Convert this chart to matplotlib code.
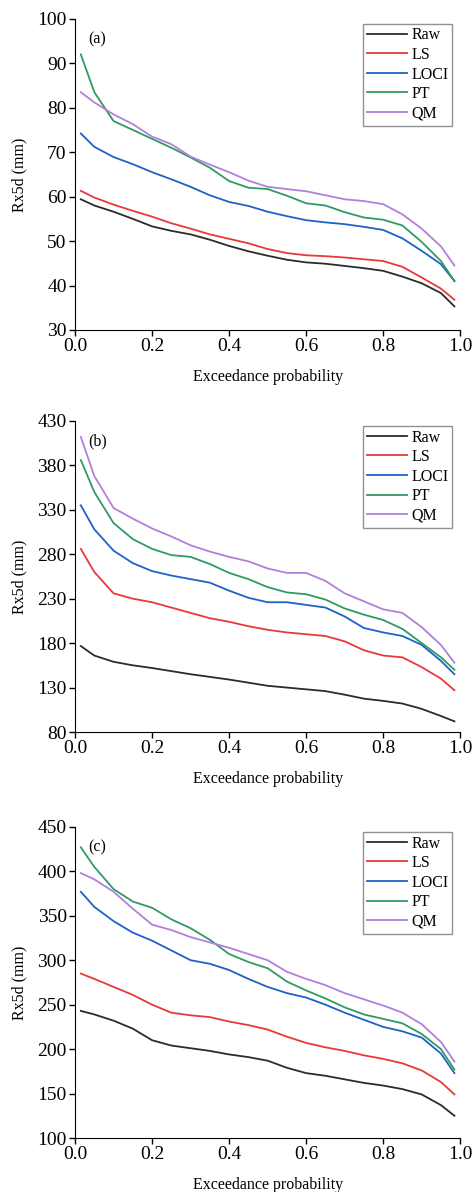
import numpy as np
import matplotlib.pyplot as plt

plt.rcParams['font.family'] = ['Liberation Serif', 'DejaVu Serif']

# exceedance probability (shared by all panels)
prob = [0.015, 0.05, 0.1, 0.15, 0.2, 0.25, 0.3, 0.35, 0.4, 0.45, 0.5,
        0.55, 0.6, 0.65, 0.7, 0.75, 0.8, 0.85, 0.9, 0.95, 0.985]

methods = ["Raw", "LS", "LOCI", "PT", "QM"]
colors = ["#2b2b2b", "#e8393a", "#1c62c8", "#2f9a62", "#b27fdc"]

# panel (a)
a_raw = [59.4, 58.0, 56.6, 55.0, 53.3, 52.3, 51.5, 50.3, 48.9, 47.7, 46.7,
         45.8, 45.2, 44.9, 44.4, 43.9, 43.3, 42.0, 40.5, 38.3, 35.3]
a_ls = [61.3, 59.8, 58.2, 56.8, 55.5, 54.0, 52.8, 51.5, 50.5, 49.5, 48.2,
        47.3, 46.8, 46.6, 46.3, 45.9, 45.5, 44.2, 41.8, 39.3, 36.8]
a_loci = [74.2, 71.2, 68.9, 67.3, 65.5, 63.9, 62.2, 60.3, 58.8, 57.9, 56.6,
          55.6, 54.7, 54.2, 53.8, 53.2, 52.5, 50.6, 47.8, 44.8, 41.0]
a_pt = [92.0, 83.5, 77.0, 75.0, 73.0, 71.0, 68.8, 66.5, 63.5, 62.0, 61.7,
        60.2, 58.5, 58.0, 56.5, 55.3, 54.8, 53.5, 49.8, 45.5, 41.0]
a_qm = [83.5, 81.2, 78.5, 76.3, 73.5, 71.8, 69.0, 67.2, 65.5, 63.6, 62.2,
        61.7, 61.2, 60.3, 59.4, 59.0, 58.3, 56.0, 52.8, 48.8, 44.5]

# panel (b)
b_raw = [176.7, 166, 159, 155, 152, 148.5, 145, 142, 139, 135.5, 132,
         130, 128, 126, 122, 117.5, 115, 112, 106, 98, 92]
b_ls = [286, 260, 236, 230, 226, 220, 214, 208, 204, 199, 195,
        192, 190, 188, 182, 172, 166, 164, 153, 140, 127]
b_loci = [335, 308, 284, 270, 261, 256, 252, 248, 239, 231, 226,
          226, 223, 220, 210, 197, 192, 188, 178, 160, 145]
b_pt = [386, 350, 315, 297, 286, 279, 277, 269, 259, 252, 243,
        237, 235, 229, 219, 212, 206, 196, 180, 164, 150]
b_qm = [412, 368, 332, 320, 309, 300, 290, 283, 277, 272, 264,
        259, 259, 250, 236, 227, 218, 214, 198, 178, 158]

# panel (c)
c_raw = [243, 239, 232, 223, 210, 204, 201, 198, 194, 191, 187,
         179, 173, 170, 166, 162, 159, 155, 149, 137, 125]
c_ls = [285, 279, 270, 261, 250, 241, 238, 236, 231, 227, 222,
        214, 207, 202, 198, 193, 189, 184, 176, 163, 149]
c_loci = [377, 360, 344, 331, 322, 311, 300, 296, 289, 279, 270,
          263, 258, 250, 241, 233, 225, 220, 213, 195, 173]
c_pt = [427, 405, 380, 366, 359, 346, 336, 323, 307, 298, 291,
        276, 266, 257, 247, 239, 234, 229, 217, 200, 177]
c_qm = [398, 391, 377, 358, 340, 334, 326, 320, 314, 307, 300,
        287, 279, 272, 263, 256, 249, 241, 228, 208, 186]

panels = [
    ("(a)", [a_raw, a_ls, a_loci, a_pt, a_qm], (30, 100), np.arange(30, 101, 10)),
    ("(b)", [b_raw, b_ls, b_loci, b_pt, b_qm], (80, 430), np.arange(80, 431, 50)),
    ("(c)", [c_raw, c_ls, c_loci, c_pt, c_qm], (100, 450), np.arange(100, 451, 50)),
]

fig = plt.figure(figsize=(4.72, 11.92), dpi=100)
bottoms = [0.7232, 0.3859, 0.0453]

for (tag, series, ylim, yticks), bot in zip(panels, bottoms):
    ax = fig.add_axes([0.159, bot, 0.816, 0.261])
    for name, vals, c in zip(methods, series, colors):
        ax.plot(prob, vals, color=c, lw=1.3, label=name)
    ax.set_xlim(0, 1)
    ax.set_ylim(*ylim)
    xt = np.arange(0, 1.01, 0.2)
    ax.set_xticks(xt)
    ax.set_xticklabels(["%.1f" % t for t in xt])
    ax.set_yticks(yticks)
    ax.spines['top'].set_visible(False)
    ax.spines['right'].set_visible(False)
    ax.tick_params(direction='out', length=4, width=1, labelsize=14, pad=2)
    ax.set_xlabel("Exceedance probability", fontsize=11.5, labelpad=10)
    ax.set_ylabel("Rx5d (mm)", fontsize=11.5, labelpad=7)
    ax.text(0.035, 0.96, tag, transform=ax.transAxes, fontsize=11.5, va='top')
    leg = ax.legend(loc='upper right', bbox_to_anchor=(0.98, 0.985), fontsize=11.5,
                    frameon=True, fancybox=False, handlelength=2.5,
                    handletextpad=0.3, borderpad=0.25, labelspacing=0.22,
                    borderaxespad=0)
    leg.get_frame().set_edgecolor('#777777')
    leg.get_frame().set_linewidth(1.0)

fig.savefig("out.png", dpi=100)
